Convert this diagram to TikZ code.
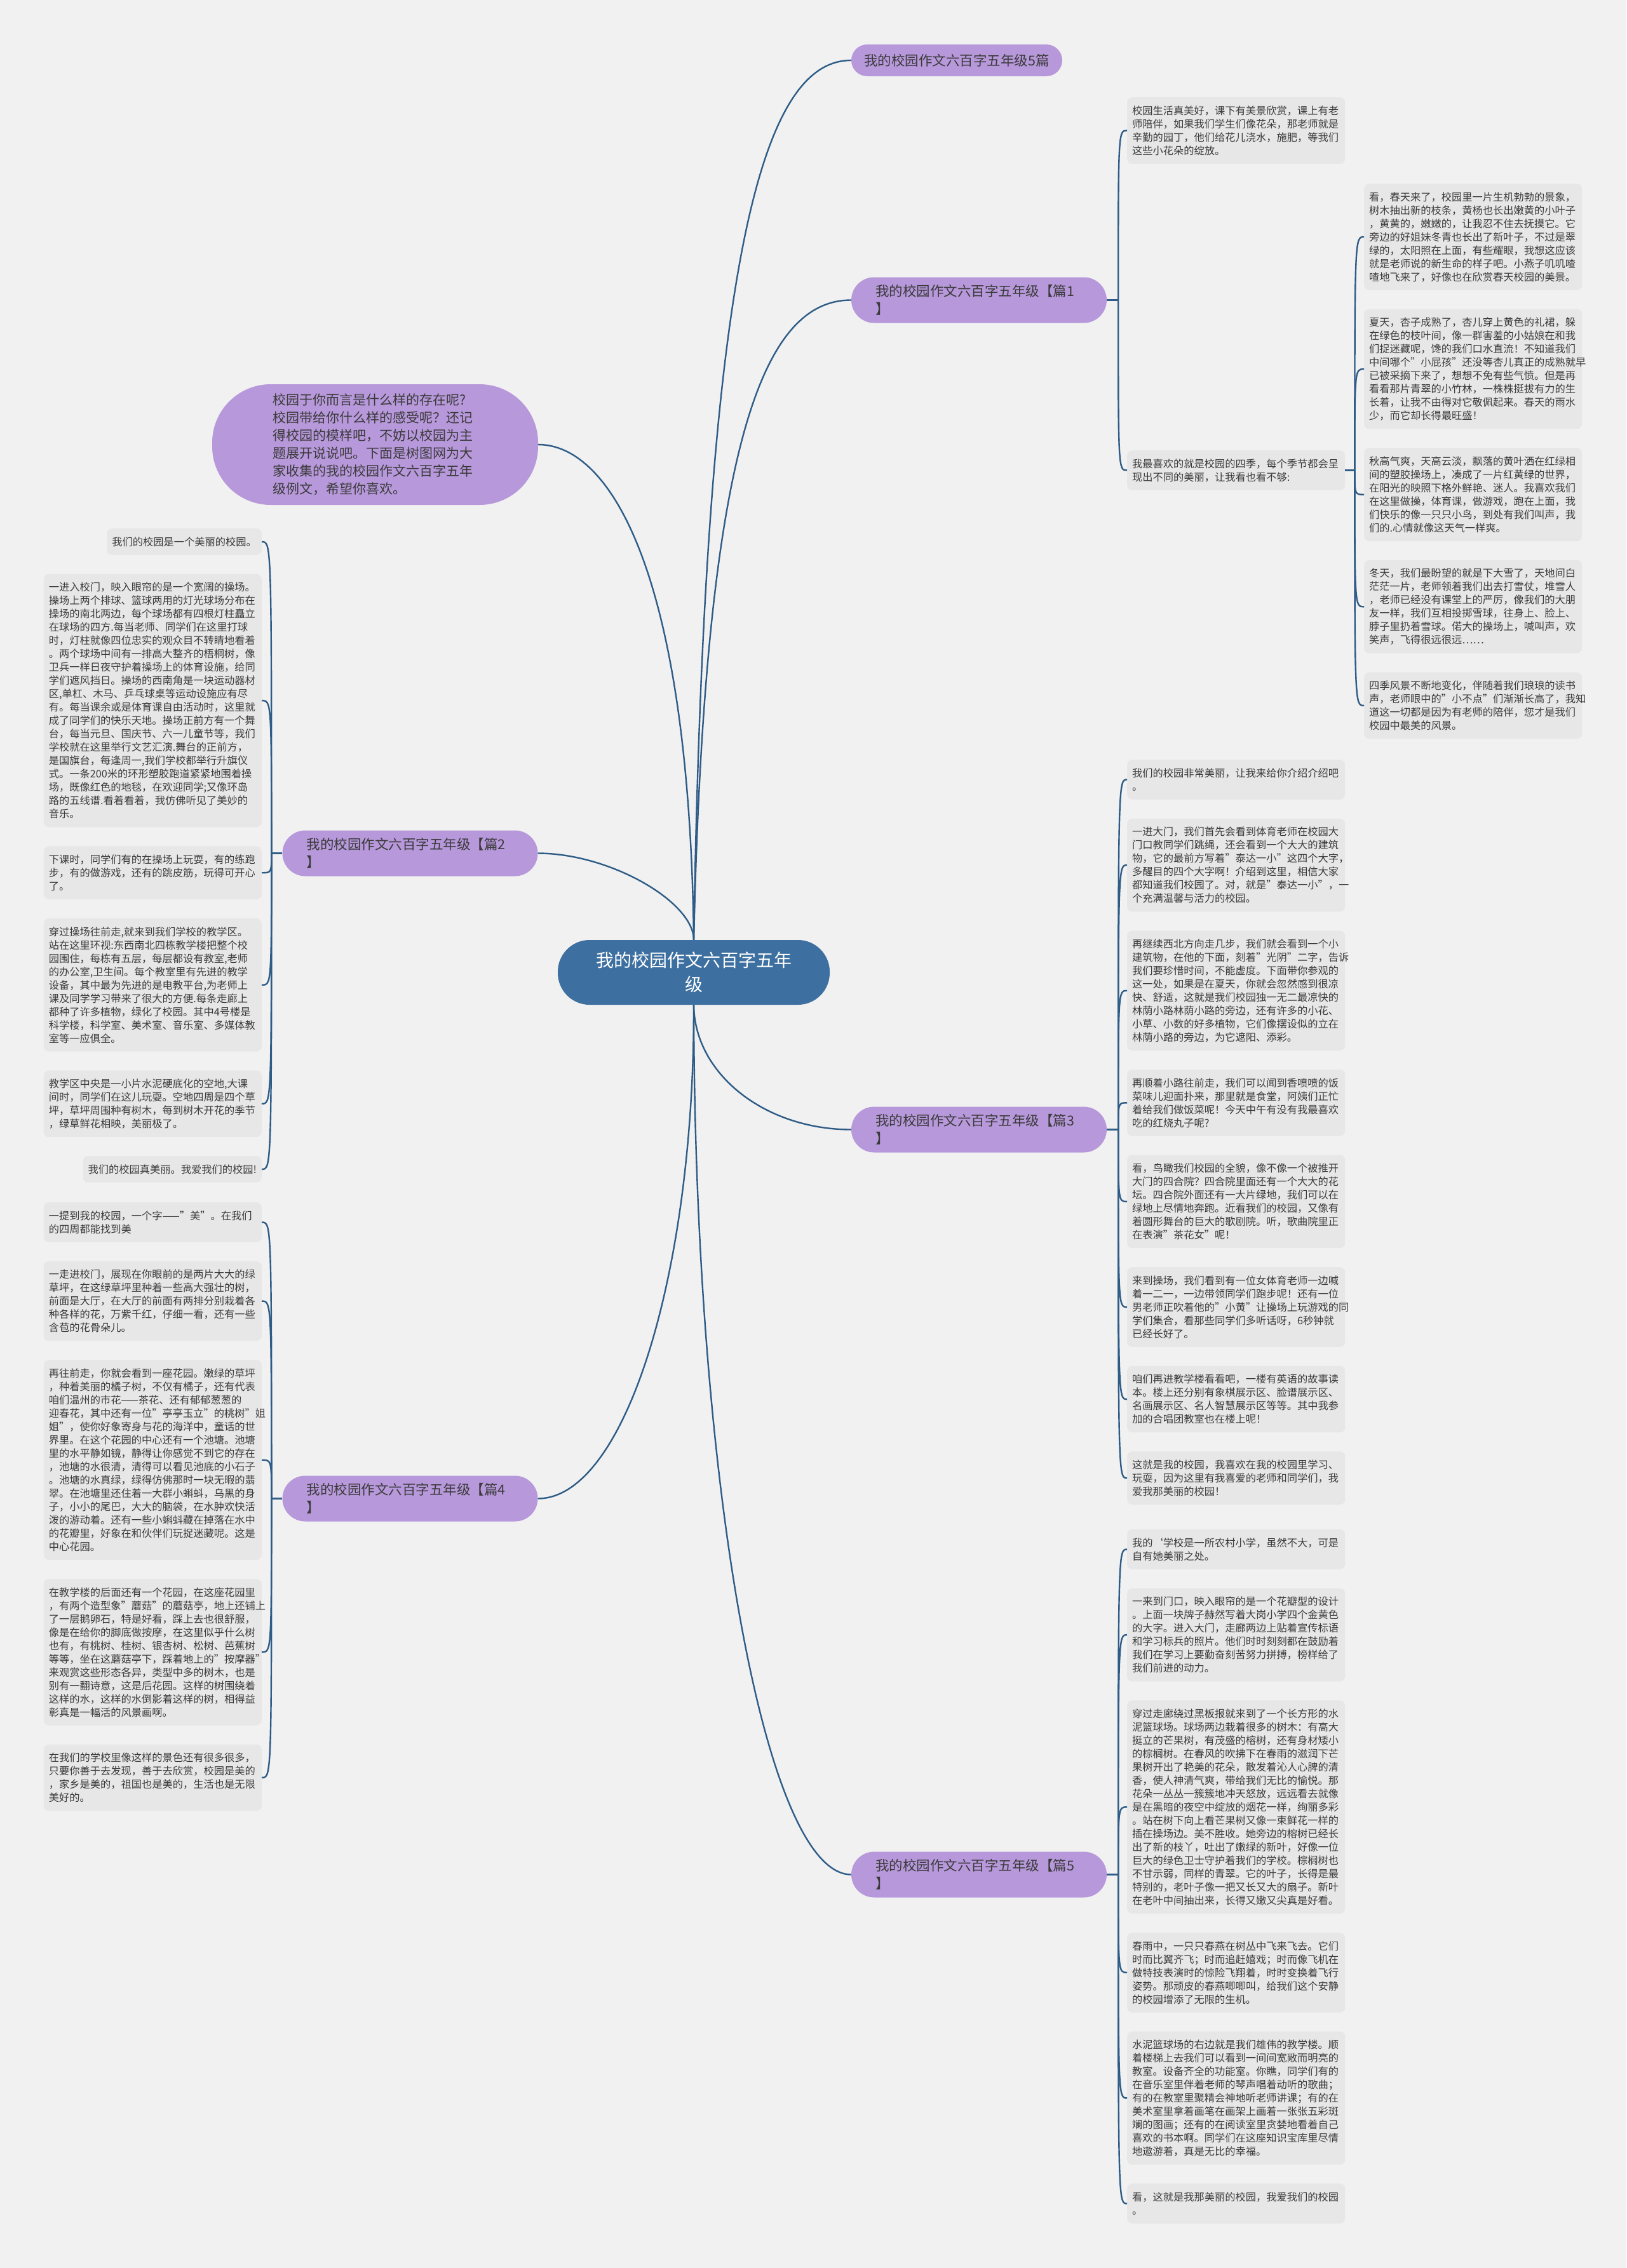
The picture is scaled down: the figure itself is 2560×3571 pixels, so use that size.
\documentclass[tikz,border=0pt]{standalone}
\usepackage{fontspec}
\setmainfont{Noto Sans CJK SC}
\definecolor{bg}{RGB}{241,241,241}
\definecolor{boxc}{RGB}{231,231,231}
\definecolor{purp}{RGB}{183,152,218}
\definecolor{ctrc}{RGB}{61,112,160}
\definecolor{linec}{RGB}{46,92,134}
\definecolor{txt}{RGB}{58,58,58}
\begin{document}
\begin{tikzpicture}[x=1pt,y=-1pt,
  tb/.style={fill=boxc, rounded corners=8pt, text=txt, align=left, text width=327pt, inner xsep=8pt, inner ysep=0pt, minimum height={21*#1+20.6}, font=\fontsize{16.25}{21}\selectfont},
  tbs/.style={fill=boxc, rounded corners=8pt, text=txt, align=left, inner xsep=8pt, inner ysep=0pt, minimum height=41.6pt, font=\fontsize{16.25}{21}\selectfont},
  pill/.style={fill=purp, rounded corners=36pt, text=txt, align=left, text width=326pt, inner xsep=38pt, inner ysep=0pt, minimum height=72pt, font=\fontsize{21.5}{28}\selectfont},
  pilltop/.style={fill=purp, rounded corners=25pt, text=txt, align=center, minimum width=332pt, inner ysep=0pt, minimum height=50pt, font=\fontsize{21.5}{28}\selectfont},
  ctrnode/.style={fill=ctrc, rounded corners=50pt, text=white, align=center, text width=330pt, minimum width=428pt, minimum height=102pt, inner ysep=0pt, font=\fontsize{28}{38}\selectfont},
  intronode/.style={fill=purp, rounded corners=92pt, text=txt, align=left, text width=322pt, minimum width=513pt, minimum height=190pt, inner ysep=0pt, font=\fontsize{21}{28}\selectfont},
  conn/.style={draw=linec, line width=2.4pt},
]
\useasboundingbox (0,0) rectangle (2560,3571);
\fill[bg] (0,0) rectangle (2560,3571);

% main nodes
\node[ctrnode] (ctr) at (1092,1531) {我的校园作文六百字五年\\级};
\node[pilltop] (t5) at (1506,95) {我的校园作文六百字五年级5篇};
\node[pill] (b1) at (1541,472.5) {我的校园作文六百字五年级【篇1\\】};
\node[pill] (b2) at (645.5,1343.5) {我的校园作文六百字五年级【篇2\\】};
\node[pill] (b3) at (1541,1778.5) {我的校园作文六百字五年级【篇3\\】};
\node[pill] (b4) at (645.5,2359.5) {我的校园作文六百字五年级【篇4\\】};
\node[pill] (b5) at (1541,2951.5) {我的校园作文六百字五年级【篇5\\】};
\node[intronode] (intro) at (590.5,700) {校园于你而言是什么样的存在呢?\\校园带给你什么样的感受呢？还记\\得校园的模样吧，不妨以校园为主\\题展开说说吧。下面是树图网为大\\家收集的我的校园作文六百字五年\\级例文，希望你喜欢。};

% main connectors
\draw[conn] (ctr.north) .. controls (1110,400) and (1200,95) .. (t5.west);
\draw[conn] (ctr.north) .. controls (1110,700) and (1200,472.5) .. (b1.west);
\draw[conn] (intro.east) .. controls (960,700) and (1085,900) .. (ctr.north);
\draw[conn] (b2.east) .. controls (960,1343.5) and (1092,1420) .. (ctr.north);
\draw[conn] (ctr.south) .. controls (1093,1691) and (1204,1778.5) .. (b3.west);
\draw[conn] (b4.east) .. controls (982,2359.5) and (1093,2011) .. (ctr.south);
\draw[conn] (ctr.south) .. controls (1093,2338) and (1204,2951.5) .. (b5.west);

% branch 1
\node[tb=4, anchor=north west] (c1a) at (1774,153) {校园生活真美好，课下有美景欣赏，课上有老\\师陪伴，如果我们学生们像花朵，那老师就是\\辛勤的园丁，他们给花儿浇水，施肥，等我们\\这些小花朵的绽放。};
\node[tb=2, anchor=north west] (c1b) at (1774,709) {我最喜欢的就是校园的四季，每个季节都会呈\\现出不同的美丽，让我看也看不够:};
\node[tb=7, anchor=north west] (s1) at (2147,289) {看，春天来了，校园里一片生机勃勃的景象，\\树木抽出新的枝条，黄杨也长出嫩黄的小叶子\\，黄黄的，嫩嫩的，让我忍不住去抚摸它。它\\旁边的好姐妹冬青也长出了新叶子，不过是翠\\绿的，太阳照在上面，有些耀眼，我想这应该\\就是老师说的新生命的样子吧。小燕子叽叽喳\\喳地飞来了，好像也在欣赏春天校园的美景。};
\node[tb=8, anchor=north west] (s2) at (2147,486.6) {夏天，杏子成熟了，杏儿穿上黄色的礼裙，躲\\在绿色的枝叶间，像一群害羞的小姑娘在和我\\们捉迷藏呢，馋的我们口水直流！不知道我们\\中间哪个"小屁孩"还没等杏儿真正的成熟就早\\已被采摘下来了，想想不免有些气愤。但是再\\看看那片青翠的小竹林，一株株挺拔有力的生\\长着，让我不由得对它敬佩起来。春天的雨水\\少，而它却长得最旺盛！};
\node[tb=6, anchor=north west] (s3) at (2147,705.2) {秋高气爽，天高云淡，飘落的黄叶洒在红绿相\\间的塑胶操场上，凑成了一片红黄绿的世界，\\在阳光的映照下格外鲜艳、迷人。我喜欢我们\\在这里做操，体育课，做游戏，跑在上面，我\\们快乐的像一只只小鸟，到处有我们叫声，我\\们的.心情就像这天气一样爽。};
\node[tb=6, anchor=north west] (s4) at (2147,881.8) {冬天，我们最盼望的就是下大雪了，天地间白\\茫茫一片，老师领着我们出去打雪仗，堆雪人\\，老师已经没有课堂上的严厉，像我们的大朋\\友一样，我们互相投掷雪球，往身上、脸上、\\脖子里扔着雪球。偌大的操场上，喊叫声，欢\\笑声，飞得很远很远……};
\node[tb=4, anchor=north west] (s5) at (2147,1058.4) {四季风景不断地变化，伴随着我们琅琅的读书\\声，老师眼中的"小不点"们渐渐长高了，我知\\道这一切都是因为有老师的陪伴，您才是我们\\校园中最美的风景。};

\draw[conn] (b1.east) -- ++(18,0) coordinate (j1);
\foreach \c in {c1a,c1b} \draw[conn] (j1) .. controls (j1 |- \c.west) .. (\c.west);
\draw[conn] (c1b.east) -- ++(15,0) coordinate (j1b);
\foreach \c in {s1,s2,s3,s4,s5} \draw[conn] (j1b) .. controls (j1b |- \c.west) .. (\c.west);

% branch 2
\node[tbs, anchor=north east] (l1) at (412,832) {我们的校园是一个美丽的校园。};
\node[tb=18, anchor=north east] (l2) at (412,903.6) {一进入校门，映入眼帘的是一个宽阔的操场。\\操场上两个排球、篮球两用的灯光球场分布在\\操场的南北两边，每个球场都有四根灯柱矗立\\在球场的四方.每当老师、同学们在这里打球\\时，灯柱就像四位忠实的观众目不转睛地看着\\。两个球场中间有一排高大整齐的梧桐树，像\\卫兵一样日夜守护着操场上的体育设施，给同\\学们遮风挡日。操场的西南角是一块运动器材\\区,单杠、木马、乒乓球桌等运动设施应有尽\\有。每当课余或是体育课自由活动时，这里就\\成了同学们的快乐天地。操场正前方有一个舞\\台，每当元旦、国庆节、六一儿童节等，我们\\学校就在这里举行文艺汇演.舞台的正前方，\\是国旗台，每逢周一,我们学校都举行升旗仪\\式。一条200米的环形塑胶跑道紧紧地围着操\\场，既像红色的地毯，在欢迎同学;又像环岛\\路的五线谱.看着看着，我仿佛听见了美妙的\\音乐。};
\node[tb=3, anchor=north east] (l3) at (412,1332.2) {下课时，同学们有的在操场上玩耍，有的练跑\\步，有的做游戏，还有的跳皮筋，玩得可开心\\了。};
\node[tb=9, anchor=north east] (l4) at (412,1445.8) {穿过操场往前走,就来到我们学校的教学区。\\站在这里环视:东西南北四栋教学楼把整个校\\园围住，每栋有五层，每层都设有教室,老师\\的办公室,卫生间。每个教室里有先进的教学\\设备，其中最为先进的是电教平台,为老师上\\课及同学学习带来了很大的方便.每条走廊上\\都种了许多植物，绿化了校园。其中4号楼是\\科学楼，科学室、美术室、音乐室、多媒体教\\室等一应俱全。};
\node[tb=4, anchor=north east] (l5) at (412,1685.4) {教学区中央是一小片水泥硬底化的空地,大课\\间时，同学们在这儿玩耍。空地四周是四个草\\坪，草坪周围种有树木，每到树木开花的季节\\，绿草鲜花相映，美丽极了。};
\node[tbs, anchor=north east] (l6) at (412,1820) {我们的校园真美丽。我爱我们的校园!};

\draw[conn] (b2.west) -- ++(-17,0) coordinate (j2);
\foreach \c in {l1,l2,l3,l4,l5,l6} \draw[conn] (j2) .. controls (j2 |- \c.east) .. (\c.east);

% branch 3
\node[tb=2, anchor=north west] (t1) at (1774,1196) {我们的校园非常美丽，让我来给你介绍介绍吧\\。};
\node[tb=6, anchor=north west] (t2) at (1774,1288.6) {一进大门，我们首先会看到体育老师在校园大\\门口教同学们跳绳，还会看到一个大大的建筑\\物，它的最前方写着"泰达一小"这四个大字，\\多醒目的四个大字啊！介绍到这里，相信大家\\都知道我们校园了。对，就是"泰达一小"，一\\个充满温馨与活力的校园。};
\node[tb=8, anchor=north west] (t3) at (1774,1465.2) {再继续西北方向走几步，我们就会看到一个小\\建筑物，在他的下面，刻着"光阴"二字，告诉\\我们要珍惜时间，不能虚度。下面带你参观的\\这一处，如果是在夏天，你就会忽然感到很凉\\快、舒适，这就是我们校园独一无二最凉快的\\林荫小路林荫小路的旁边，还有许多的小花、\\小草、小数的好多植物，它们像摆设似的立在\\林荫小路的旁边，为它遮阳、添彩。};
\node[tb=4, anchor=north west] (t4) at (1774,1683.8) {再顺着小路往前走，我们可以闻到香喷喷的饭\\菜味儿迎面扑来，那里就是食堂，阿姨们正忙\\着给我们做饭菜呢！今天中午有没有我最喜欢\\吃的红烧丸子呢?};
\node[tb=6, anchor=north west] (t5b) at (1774,1818.4) {看，鸟瞰我们校园的全貌，像不像一个被推开\\大门的四合院？四合院里面还有一个大大的花\\坛。四合院外面还有一大片绿地，我们可以在\\绿地上尽情地奔跑。近看我们的校园，又像有\\着圆形舞台的巨大的歌剧院。听，歌曲院里正\\在表演"茶花女"呢！};
\node[tb=5, anchor=north west] (t6) at (1774,1995) {来到操场，我们看到有一位女体育老师一边喊\\着一二一，一边带领同学们跑步呢！还有一位\\男老师正吹着他的"小黄"让操场上玩游戏的同\\学们集合，看那些同学们多听话呀，6秒钟就\\已经长好了。};
\node[tb=4, anchor=north west] (t7) at (1774,2150.6) {咱们再进教学楼看看吧，一楼有英语的故事读\\本。楼上还分别有象棋展示区、脸谱展示区、\\名画展示区、名人智慧展示区等等。其中我参\\加的合唱团教室也在楼上呢！};
\node[tb=3, anchor=north west] (t8) at (1774,2285.2) {这就是我的校园，我喜欢在我的校园里学习、\\玩耍，因为这里有我喜爱的老师和同学们，我\\爱我那美丽的校园！};

\draw[conn] (b3.east) -- ++(18,0) coordinate (j3);
\foreach \c in {t1,t2,t3,t4,t5b,t6,t7,t8} \draw[conn] (j3) .. controls (j3 |- \c.west) .. (\c.west);

% branch 4
\node[tb=2, anchor=north east] (m1) at (412,1893) {一提到我的校园，一个字——"美"。在我们\\的四周都能找到美};
\node[tb=5, anchor=north east] (m2) at (412,1985.6) {一走进校门，展现在你眼前的是两片大大的绿\\草坪，在这绿草坪里种着一些高大强壮的树，\\前面是大厅，在大厅的前面有两排分别栽着各\\种各样的花，万紫千红，仔细一看，还有一些\\含苞的花骨朵儿。};
\node[tb=14, anchor=north east] (m3) at (412,2141.2) {再往前走，你就会看到一座花园。嫩绿的草坪\\，种着美丽的橘子树，不仅有橘子，还有代表\\咱们温州的市花——茶花、还有郁郁葱葱的\\迎春花，其中还有一位"亭亭玉立"的桃树"姐\\姐"，使你好象寄身与花的海洋中，童话的世\\界里。在这个花园的中心还有一个池塘。池塘\\里的水平静如镜，静得让你感觉不到它的存在\\，池塘的水很清，清得可以看见池底的小石子\\。池塘的水真绿，绿得仿佛那时一块无暇的翡\\翠。在池塘里还住着一大群小蝌蚪，乌黑的身\\子，小小的尾巴，大大的脑袋，在水肿欢快活\\泼的游动着。还有一些小蝌蚪藏在掉落在水中\\的花瓣里，好象在和伙伴们玩捉迷藏呢。这是\\中心花园。};
\node[tb=10, anchor=north east] (m4) at (412,2485.8) {在教学楼的后面还有一个花园，在这座花园里\\，有两个造型象"蘑菇"的蘑菇亭，地上还铺上\\了一层鹅卵石，特是好看，踩上去也很舒服，\\像是在给你的脚底做按摩，在这里似乎什么树\\也有，有桃树、桂树、银杏树、松树、芭蕉树\\等等，坐在这蘑菇亭下，踩着地上的"按摩器"\\来观赏这些形态各异，类型中多的树木，也是\\别有一翻诗意，这是后花园。这样的树围绕着\\这样的水，这样的水倒影着这样的树，相得益\\彰真是一幅活的风景画啊。};
\node[tb=4, anchor=north east] (m5) at (412,2746.4) {在我们的学校里像这样的景色还有很多很多，\\只要你善于去发现，善于去欣赏，校园是美的\\，家乡是美的，祖国也是美的，生活也是无限\\美好的。};

\draw[conn] (b4.west) -- ++(-17,0) coordinate (j4);
\foreach \c in {m1,m2,m3,m4,m5} \draw[conn] (j4) .. controls (j4 |- \c.east) .. (\c.east);

% branch 5
\node[tb=2, anchor=north west] (f1) at (1774,2408) {我的`学校是一所农村小学，虽然不大，可是\\自有她美丽之处。};
\node[tb=6, anchor=north west] (f2) at (1774,2500.6) {一来到门口，映入眼帘的是一个花瓣型的设计\\。上面一块牌子赫然写着大岗小学四个金黄色\\的大字。进入大门，走廊两边上贴着宣传标语\\和学习标兵的照片。他们时时刻刻都在鼓励着\\我们在学习上要勤奋刻苦努力拼搏，榜样给了\\我们前进的动力。};
\node[tb=15, anchor=north west] (f3) at (1774,2677.2) {穿过走廊绕过黑板报就来到了一个长方形的水\\泥篮球场。球场两边栽着很多的树木：有高大\\挺立的芒果树，有茂盛的榕树，还有身材矮小\\的棕榈树。在春风的吹拂下在春雨的滋润下芒\\果树开出了艳美的花朵，散发着沁人心脾的清\\香，使人神清气爽，带给我们无比的愉悦。那\\花朵一丛丛一簇簇地冲天怒放，远远看去就像\\是在黑暗的夜空中绽放的烟花一样，绚丽多彩\\。站在树下向上看芒果树又像一束鲜花一样的\\插在操场边。美不胜收。她旁边的榕树已经长\\出了新的枝丫，吐出了嫩绿的新叶，好像一位\\巨大的绿色卫士守护着我们的学校。棕榈树也\\不甘示弱，同样的青翠。它的叶子，长得是最\\特别的，老叶子像一把又长又大的扇子。新叶\\在老叶中间抽出来，长得又嫩又尖真是好看。};
\node[tb=5, anchor=north west] (f4) at (1774,3042.8) {春雨中，一只只春燕在树丛中飞来飞去。它们\\时而比翼齐飞；时而追赶嬉戏；时而像飞机在\\做特技表演时的惊险飞翔着，时时变换着飞行\\姿势。那顽皮的春燕唧唧叫，给我们这个安静\\的校园增添了无限的生机。};
\node[tb=9, anchor=north west] (f5) at (1774,3198.4) {水泥篮球场的右边就是我们雄伟的教学楼。顺\\着楼梯上去我们可以看到一间间宽敞而明亮的\\教室。设备齐全的功能室。你瞧，同学们有的\\在音乐室里伴着老师的琴声唱着动听的歌曲；\\有的在教室里聚精会神地听老师讲课；有的在\\美术室里拿着画笔在画架上画着一张张五彩斑\\斓的图画；还有的在阅读室里贪婪地看着自己\\喜欢的书本啊。同学们在这座知识宝库里尽情\\地遨游着，真是无比的幸福。};
\node[tb=2, anchor=north west] (f6) at (1774,3438) {看，这就是我那美丽的校园，我爱我们的校园\\。};

\draw[conn] (b5.east) -- ++(18,0) coordinate (j5);
\foreach \c in {f1,f2,f3,f4,f5,f6} \draw[conn] (j5) .. controls (j5 |- \c.west) .. (\c.west);
\end{tikzpicture}
\end{document}
